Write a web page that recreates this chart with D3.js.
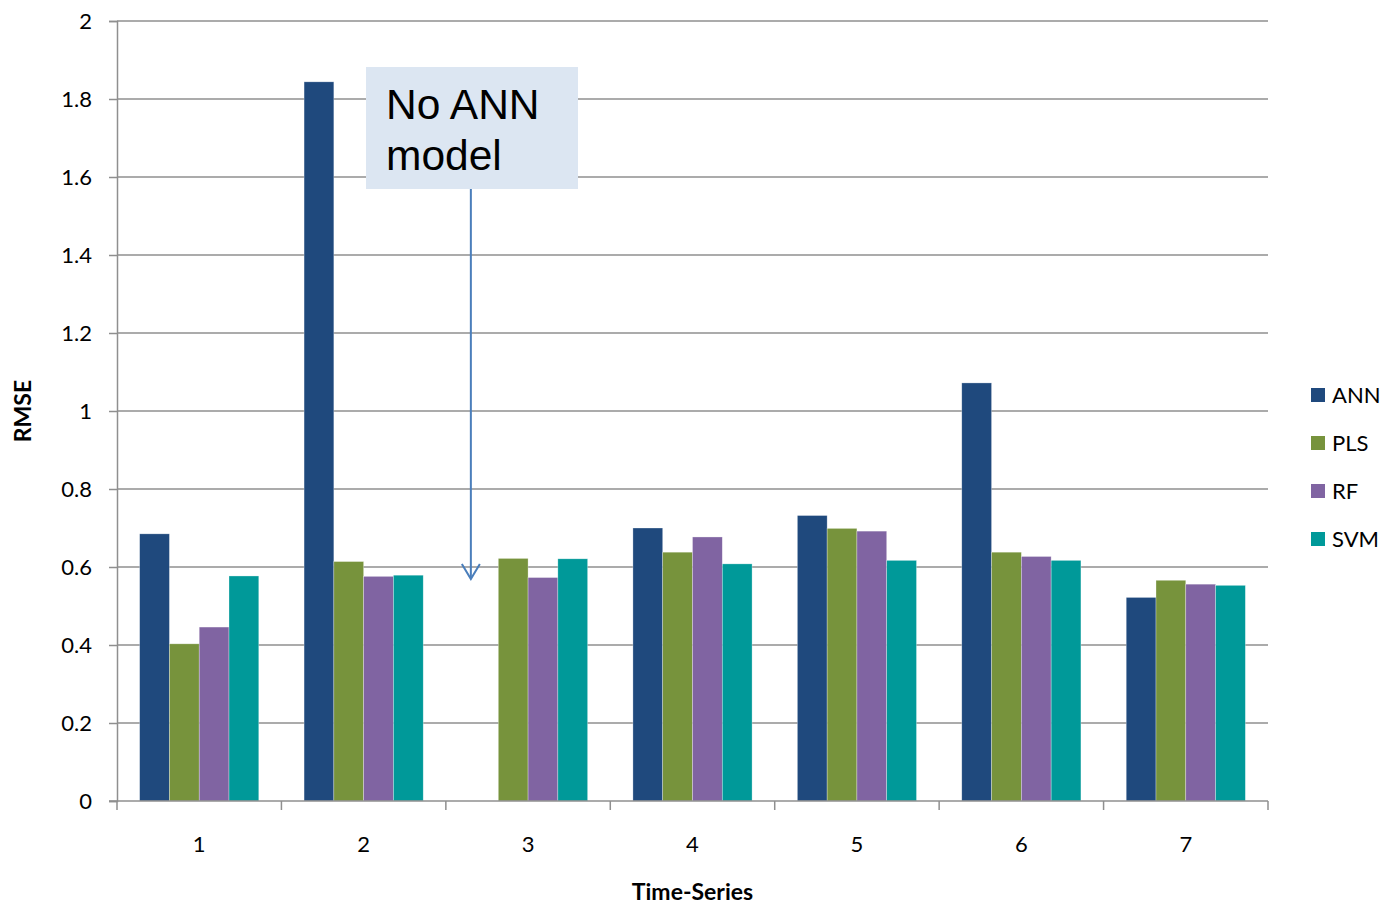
<!DOCTYPE html>
<html>
<head>
<meta charset="utf-8">
<script src="https://cdn.jsdelivr.net/npm/d3@7"></script>
<style>
  html, body { margin: 0; padding: 0; background: #fff; }
  svg { display: block; }
</style>
</head>
<body>
<svg id="chart" width="1383" height="906"></svg>
<script>
// RMSE per time-series for each model
const categories = ["1", "2", "3", "4", "5", "6", "7"];
const seriesNames = ["ANN", "PLS", "RF", "SVM"];
const annValues = [0.685, 1.844, null, 0.700, 0.732, 1.072, 0.522];
const plsValues = [0.403, 0.614, 0.622, 0.638, 0.699, 0.638, 0.566];
const rfValues  = [0.446, 0.576, 0.573, 0.677, 0.692, 0.627, 0.556];
const svmValues = [0.577, 0.579, 0.621, 0.608, 0.617, 0.617, 0.553];
const yTicks = [0, 0.2, 0.4, 0.6, 0.8, 1, 1.2, 1.4, 1.6, 1.8, 2];
const colors = ["#1F497D", "#77933C", "#8064A2", "#009999"];

const valuesBySeries = [annValues, plsValues, rfValues, svmValues];

const svg = d3.select("#chart");
const plotLeft = 117, plotRight = 1268, plotTop = 21, plotBottom = 801;
const gridColor = "#8f8f8f";
const fontFamily = "Lato, 'Open Sans', sans-serif";

const x = d3.scaleBand().domain(categories).range([plotLeft, plotRight]).padding(0);
const xs = d3.scaleBand().domain(seriesNames).range([0, x.bandwidth()])
  .paddingInner(0).paddingOuter(0.76);
const y = d3.scaleLinear().domain([0, 2]).range([plotBottom, plotTop]);

// horizontal gridlines
svg.append("g")
  .selectAll("line")
  .data(yTicks.filter(d => d > 0))
  .join("line")
  .attr("x1", plotLeft).attr("x2", plotRight)
  .attr("y1", d => y(d)).attr("y2", d => y(d))
  .attr("stroke", gridColor).attr("stroke-width", 1.5);

// bars
const groups = svg.append("g")
  .selectAll("g")
  .data(categories)
  .join("g")
  .attr("transform", d => `translate(${x(d)},0)`);

groups.selectAll("rect")
  .data((c, i) => seriesNames.map((s, k) => ({ s, k, v: valuesBySeries[k][i] }))
    .filter(d => d.v !== null))
  .join("rect")
  .attr("x", d => xs(d.s))
  .attr("width", xs.bandwidth())
  .attr("y", d => y(d.v))
  .attr("height", d => y(0) - y(d.v))
  .attr("fill", d => colors[d.k])
  .attr("stroke", "#ffffff")
  .attr("stroke-opacity", 0.5)
  .attr("stroke-width", 0.6);

// y axis
const yAxis = svg.append("g")
  .attr("transform", `translate(${plotLeft},0)`)
  .call(d3.axisLeft(y).tickValues(yTicks).tickFormat(d3.format("")).tickSize(8).tickPadding(17));
yAxis.select(".domain").attr("stroke", gridColor).attr("stroke-width", 1.5);
yAxis.selectAll(".tick line").attr("stroke", gridColor).attr("stroke-width", 1.5);
yAxis.selectAll(".tick text").attr("font-size", 22).attr("fill", "#000").attr("font-family", fontFamily);

// x axis: ticks at category boundaries
const xAxisG = svg.append("g").attr("transform", `translate(0,${plotBottom})`);
xAxisG.append("line")
  .attr("x1", plotLeft - 8).attr("x2", plotRight)
  .attr("stroke", gridColor).attr("stroke-width", 1.5);
xAxisG.selectAll("line.b")
  .data(categories.map(c => x(c)).concat([plotRight]))
  .join("line").attr("class", "b")
  .attr("x1", d => d).attr("x2", d => d)
  .attr("y1", 0).attr("y2", 9)
  .attr("stroke", gridColor).attr("stroke-width", 1.5);
xAxisG.selectAll("text")
  .data(categories)
  .join("text")
  .attr("x", d => x(d) + x.bandwidth() / 2)
  .attr("y", 51)
  .attr("text-anchor", "middle")
  .attr("font-size", 22)
  .attr("font-family", fontFamily)
  .text(d => d);

// axis titles
svg.append("text")
  .attr("x", (plotLeft + plotRight) / 2).attr("y", 900)
  .attr("text-anchor", "middle")
  .attr("font-size", 23).attr("font-weight", "bold")
  .attr("font-family", fontFamily)
  .text("Time-Series");
svg.append("text")
  .attr("transform", "translate(31,411) rotate(-90)")
  .attr("text-anchor", "middle")
  .attr("font-size", 23).attr("font-weight", "bold")
  .attr("font-family", fontFamily)
  .text("RMSE");

// legend
const legend = svg.append("g").attr("transform", "translate(1311,0)");
const legendItems = legend.selectAll("g")
  .data(seriesNames)
  .join("g")
  .attr("transform", (d, i) => `translate(0,${395 + i * 48})`);
legendItems.append("rect")
  .attr("x", 0).attr("y", -7).attr("width", 14).attr("height", 14)
  .attr("fill", (d, i) => colors[i]);
legendItems.append("text")
  .attr("x", 21).attr("y", 8)
  .attr("font-size", 22)
  .attr("font-family", fontFamily)
  .text(d => d);

// annotation for the missing ANN model in series 3
const arrowX = x("3") + 25;
svg.append("line")
  .attr("x1", arrowX).attr("x2", arrowX)
  .attr("y1", 189).attr("y2", 578)
  .attr("stroke", "#4A7EBB").attr("stroke-width", 2);
svg.append("path")
  .attr("d", `M${arrowX - 9},${564} L${arrowX},${579} L${arrowX + 9},${564}`)
  .attr("fill", "none").attr("stroke", "#4A7EBB").attr("stroke-width", 2);

svg.append("rect")
  .attr("x", 366).attr("y", 67).attr("width", 212).attr("height", 122)
  .attr("fill", "#DCE6F2");
const note = svg.append("text")
  .attr("font-family", "'Liberation Sans', Arial, sans-serif")
  .attr("font-size", 42.5).attr("fill", "#000");
note.append("tspan").attr("x", 386).attr("y", 119).text("No ANN");
note.append("tspan").attr("x", 386).attr("y", 170).text("model");
</script>
</body>
</html>
